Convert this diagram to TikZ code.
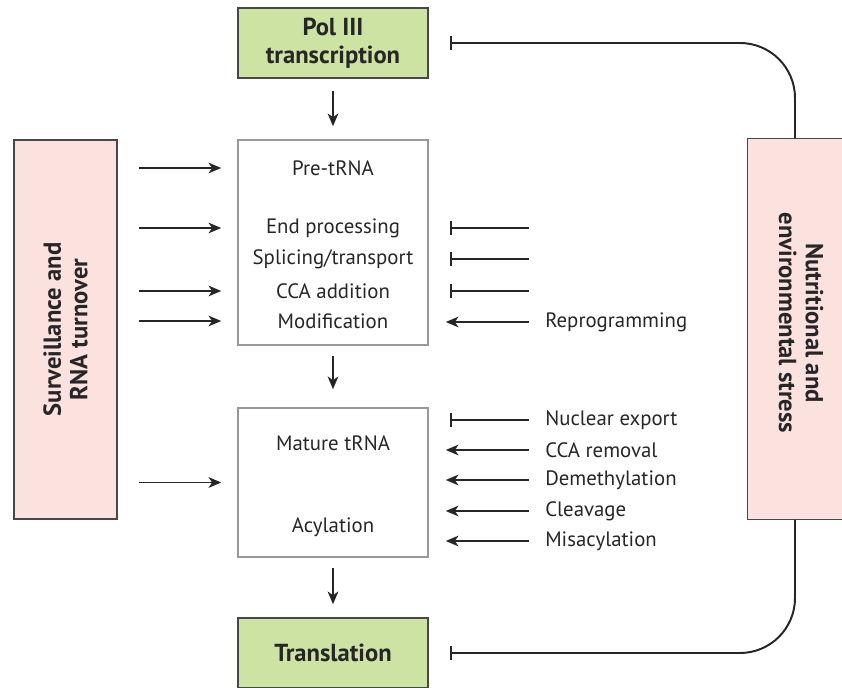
\documentclass[tikz,border=0pt]{standalone}
\usepackage{fontspec}
\setmainfont{PT Sans}
\usepackage{tikz}
\usetikzlibrary{arrows,arrows.meta}
\usetikzlibrary{positioning}
\tikzset{>={Stealth[length=9pt,width=7.5pt,inset=2.5pt]}}
\definecolor{boxgreen}{HTML}{CDE3A4}
\definecolor{boxpink}{HTML}{FCE2DF}
\definecolor{ink}{HTML}{262626}

\begin{document}
\begin{tikzpicture}[x=0.025cm,y=-0.025cm,
    greenbox/.style={draw=ink!85,fill=boxgreen,line width=1pt,
      minimum width=4.75cm,minimum height=1.75cm,align=center,
      font=\fontsize{17.5}{20}\selectfont\bfseries,text=ink},
    pinkbox/.style={fill=boxpink,line width=1pt},
    stepbox/.style={draw=black!40,line width=1pt,minimum width=4.75cm},
    boldtext/.style={font=\fontsize{17.5}{19}\selectfont\bfseries,
      text=ink,align=center},
    lbl/.style={font=\fontsize{14.8}{17}\selectfont,text=ink},
    side/.style={lbl,anchor=west,inner sep=0pt},
    flow/.style={->,line width=1.4pt,draw=ink},
    block/.style={-{Bar[width=10pt]},line width=1.4pt,draw=ink}]
    \useasboundingbox (0,0) rectangle (842,688);

    % main column
    \node (pol) [greenbox] at (333,43) {Pol III\\transcription};
    \node (pre) [stepbox,minimum height=5.125cm] at (333,242.5) {};
    \node (mat) [stepbox,minimum height=3.725cm] at (333,482.5) {};
    \node (trans) [greenbox] at (333,653) {Translation};

    \node (t1) [lbl] at (333,168) {Pre-tRNA};
    \node (t2) [lbl] at (333,228) {End processing};
    \node (t3) [lbl] at (333,259) {Splicing/transport};
    \node (t4) [lbl] at (333,291) {CCA addition};
    \node (t5) [lbl] at (333,321) {Modification};
    \node (m1) [lbl] at (333,443) {Mature tRNA};
    \node (m2) [lbl] at (333,527) {Acylation};

    \path[flow] (pol) edge [shorten <=0.3cm,shorten >=0.325cm] (pre);
    \path[flow] (pre) edge [shorten <=0.25cm,shorten >=0.45cm] (mat);
    \path[flow] (mat) edge [shorten <=0.25cm,shorten >=0.325cm] (trans);

    % side boxes
    \node (surv) [pinkbox,draw=ink!85,minimum width=2.575cm,
      minimum height=9.475cm] at (65.5,329.5) {};
    \node [boldtext,rotate=90] at (surv) {Surveillance and\\RNA turnover};

    \node (nut) [pinkbox,minimum width=2.35cm,minimum height=9.5cm]
      at (795,329) {};
    \draw[ink!85,line width=1pt] (nut.north east) -- (nut.north west)
      -- (nut.south west) -- (nut.south east);
    \node [boldtext,rotate=-90] at (801,323)
      {Nutritional and\\environmental stress};

    % feedback
    \draw[block,rounded corners=1.375cm,shorten >=0.525cm]
      (nut.north) |- (pol.east);
    \draw[block,rounded corners=1.375cm,shorten >=0.525cm]
      (nut.south) |- (trans.east);

    % surveillance inputs
    \draw[flow,shorten <=0.525cm,shorten >=0.4cm] (surv.east |- t1) -- (t1 -| pre.west);
    \draw[flow,shorten <=0.525cm,shorten >=0.4cm] (surv.east |- t2) -- (t2 -| pre.west);
    \draw[flow,shorten <=0.525cm,shorten >=0.4cm] (surv.east |- t4) -- (t4 -| pre.west);
    \draw[flow,shorten <=0.525cm,shorten >=0.4cm] (surv.east |- t5) -- (t5 -| pre.west);
    \draw[flow,shorten <=0.525cm,shorten >=0.4cm] (surv.east |- mat) -- (mat.west);

    % stress inputs
    \coordinate (r) at (529,0);
    \draw[block,shorten >=0.525cm] (t2 -| r) -- (t2 -| pre.east);
    \draw[block,shorten >=0.525cm] (t3 -| r) -- (t3 -| pre.east);
    \draw[block,shorten >=0.525cm] (t4 -| r) -- (t4 -| pre.east);

    \node (rep) [side] at (545,322) {Reprogramming};
    \draw[flow,shorten <=0.4cm,shorten >=0.425cm] (rep.west) -- (rep -| pre.east);

    \node (s1) [side] at (545,420) {Nuclear export};
    \node (s2) [side] at (545,450) {CCA removal};
    \node (s3) [side] at (545,480) {Demethylation};
    \node (s4) [side] at (545,511) {Cleavage};
    \node (s5) [side] at (545,541) {Misacylation};

    \draw[block,shorten <=0.4cm,shorten >=0.525cm] (s1.west) -- (s1 -| mat.east);
    \draw[flow,shorten <=0.4cm,shorten >=0.425cm] (s2.west) -- (s2 -| mat.east);
    \draw[flow,shorten <=0.4cm,shorten >=0.425cm] (s3.west) -- (s3 -| mat.east);
    \draw[flow,shorten <=0.4cm,shorten >=0.425cm] (s4.west) -- (s4 -| mat.east);
    \draw[flow,shorten <=0.4cm,shorten >=0.425cm] (s5.west) -- (s5 -| mat.east);
  \end{tikzpicture}
\end{document}
